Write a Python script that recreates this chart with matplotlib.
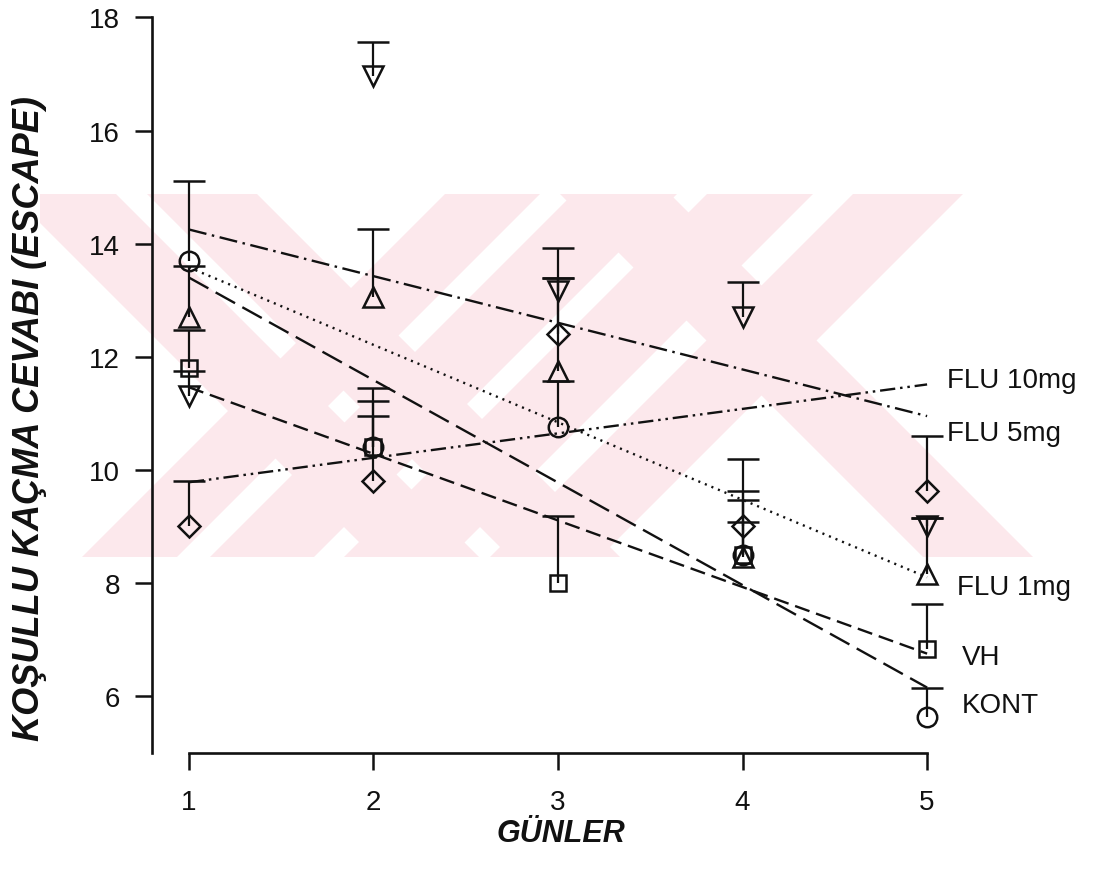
import matplotlib
matplotlib.use("Agg")
import matplotlib.pyplot as plt
import numpy as np
from matplotlib.patches import Polygon, Rectangle

plt.rcParams['font.family'] = ['Liberation Sans', 'DejaVu Sans']
plt.rcParams['lines.scale_dashes'] = False

days = [1, 2, 3, 4, 5]
groups = ["KONT", "VH", "FLU 1mg", "FLU 5mg", "FLU 10mg"]

# group means and upper SEM per day
kont = [13.7, 10.4, 10.75, 8.5, 5.63]
kont_err = [1.4, 1.04, 0.82, 0.97, 0.51]
vh = [11.8, 10.4, 8.0, 8.5, 6.83]
vh_err = [0.67, 0.55, 1.18, 1.12, 0.8]
flu1 = [12.7, 13.05, 11.74, 8.45, 8.15]
flu1_err = [0.9, 1.2, 1.66, 0.62, 1.0]
flu5 = [11.3, 16.97, 13.17, 12.7, 9.0]
flu5_err = [0.44, 0.6, 0.76, 0.63, 0.15]
flu10 = [9.0, 9.8, 12.4, 9.0, 9.62]
flu10_err = [0.8, 1.41, 1.0, 1.2, 0.98]

# regression line values at day 1 and day 5
trend_day1 = [13.4, 11.46, 13.58, 14.25, 9.78]
trend_day5 = [6.15, 6.75, 8.1, 10.95, 11.51]

means = [kont, vh, flu1, flu5, flu10]
errs = [kont_err, vh_err, flu1_err, flu5_err, flu10_err]
markers = ['o', 's', '^', 'v', 'D']
msizes = [14, 12, 15, 15, 11]
styles = [(0, (16, 6)), (0, (11, 5)), (0, (1.5, 3.6)),
          (0, (13, 4, 1.8, 4)), (0, (11, 3.5, 1.8, 3.5, 1.8, 3.5))]
label_pos = [(5.19, 5.84), (5.19, 6.69), (5.163, 7.92), (5.11, 10.65), (5.108, 11.58)]

ink = '#111111'
pink = '#fce8ec'

fig = plt.figure(figsize=(10.93, 8.70), dpi=100)

# faint background stamp behind the plot, in pixel coordinates
bg = fig.add_axes([0, 0, 1, 1], zorder=0)
bg.set_xlim(0, 1093)
bg.set_ylim(870, 0)
bg.axis('off')
top, bot = 195, 558
h = bot - top
back = [(11, 116), (147, 257), (560, 670)]
fwd = [(445, 540), (573, 677), (707, 813), (853, 963)]
clip = Rectangle((40, top), 1093, h, transform=bg.transData)
for a, b in back:
    p = Polygon([(a, top), (b, top), (b + h, bot), (a + h, bot)],
                closed=True, fc=pink, ec='none')
    bg.add_patch(p)
    p.set_clip_path(clip)
for a, b in fwd:
    p = Polygon([(a, top), (b, top), (b - h, bot), (a - h, bot)],
                closed=True, fc=pink, ec='none')
    bg.add_patch(p)
    p.set_clip_path(clip)

ax = fig.add_axes([152 / 1093, (870 - 753.6) / 870,
                   (964 - 152) / 1093, (753.6 - 18.4) / 870], zorder=1)
ax.patch.set_alpha(0)

for i in range(len(groups)):
    ax.plot([days[0], days[-1]], [trend_day1[i], trend_day5[i]],
            color=ink, lw=1.7, linestyle=styles[i])
    tops = np.array(means[i]) + np.array(errs[i])
    # upper error bar only: stem plus a cap at the top
    ax.vlines(days, means[i], tops, color=ink, lw=1.6)
    ax.plot(days, tops, linestyle='none', marker='_', markersize=23,
            mew=1.8, color=ink)
    ax.plot(days, means[i], linestyle='none', marker=markers[i],
            markersize=msizes[i], mfc='none', mec=ink, mew=1.8)
    ax.text(label_pos[i][0], label_pos[i][1], groups[i], fontsize=20,
            va='center', ha='left', color=ink)

ax.set_xlim(0.8, 5.2)
ax.set_ylim(5, 18)
ax.set_xticks(days)
ax.set_yticks(range(6, 19, 2))
ax.spines['top'].set_visible(False)
ax.spines['right'].set_visible(False)
ax.spines['bottom'].set_bounds(1, 5)
ax.spines['left'].set_bounds(5, 18)
for s in ('bottom', 'left'):
    ax.spines[s].set_linewidth(1.9)
    ax.spines[s].set_color(ink)
ax.tick_params(length=12, width=1.8, colors=ink, labelsize=20)
ax.tick_params(axis='x', pad=14)
ax.tick_params(axis='y', pad=11)

fig.text(561 / 1093, 1 - 834 / 870, 'GÜNLER', fontsize=22, fontweight='bold',
         fontstyle='italic', ha='center', va='center', color=ink)
fig.text(30 / 1093, 1 - 419 / 870, 'KOŞULLU KAÇMA CEVABI (ESCAPE)',
         fontsize=26, fontweight='bold', fontstyle='italic', rotation=90,
         ha='center', va='center', color=ink)

fig.savefig('out.png', dpi=100)
